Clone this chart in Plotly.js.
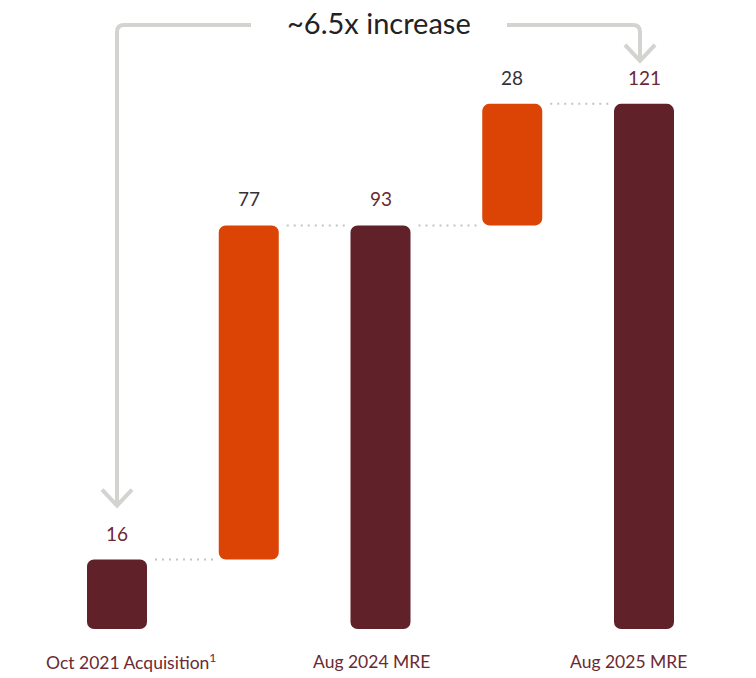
<!DOCTYPE html>
<html>
<head>
<meta charset="utf-8">
<script src="https://cdn.plot.ly/plotly-3.0.1.min.js"></script>
<style>html,body{margin:0;padding:0;background:#fff;}#chart{width:756px;height:678px;}</style>
</head>
<body>
<div id="chart"></div>
<script>
// ---- data ----
const categories = ["Oct 2021 Acquisition<sup>1</sup>", "Increase to Aug 2024", "Aug 2024 MRE", "Increase to Aug 2025", "Aug 2025 MRE"];
const values = [16, 77, 93, 28, 121];
const kinds = ["total", "delta", "total", "delta", "total"];
const valueLabels = ["16", "77", "93", "28", "121"];
const headline = "~6.5x increase";

// ---- styling ----
const MAROON = "#612129";
const ORANGE = "#dc4405";
const W = 756, H = 678;
const M = {l: 15, r: 0, t: 0, b: 49};
const plotW = W - M.l - M.r, plotH = H - M.t - M.b;
const catStep = 131.75;             // px per category
const xr0 = -(117 - M.l) / catStep;
const xr1 = xr0 + plotW / catStep;
const yUnit = 4.34;                 // px per value unit
const yMax = plotH / yUnit;
const pxX = p => p / catStep;       // px length -> x data length
const pxY = p => p / yUnit;         // px length -> y data length
const barW = 60 / catStep;
const labelShift = {0: 14, 2: -9, 4: -16};   // horizontal label offsets (px) as in the source slide

// compute bases
const bases = [];
let running = 0;
values.forEach((v, i) => {
  if (kinds[i] === "total") { bases.push(0); running = v; }
  else { bases.push(running); running += v; }
});
const tops = values.map((v, i) => bases[i] + v);
const xs = categories.map((c, i) => i);

const trace = {
  type: "bar",
  x: xs,
  y: values,
  base: bases,
  width: barW,
  marker: {color: kinds.map(k => k === "total" ? MAROON : ORANGE), line: {width: 0}},
  hoverinfo: "skip"
};

const shapes = [];
// axis baseline
shapes.push({type: "line", xref: "paper", yref: "y", x0: 0, x1: 1, y0: -pxY(2.5), y1: -pxY(2.5),
  line: {color: "#eeeeee", width: 5}, layer: "below"});
// dotted connectors
for (let i = 0; i < values.length - 1; i++) {
  shapes.push({type: "line", xref: "x", yref: "y",
    x0: xs[i] + barW / 2 + pxX(8), x1: xs[i + 1] - barW / 2 - pxX(4),
    y0: tops[i], y1: tops[i],
    line: {color: "#c4c4c4", width: 2, dash: "2px,5px"}});
}

const annotations = [];
values.forEach((v, i) => {
  annotations.push({x: xs[i], y: tops[i], xref: "x", yref: "y", text: valueLabels[i], showarrow: false,
    yanchor: "bottom", yshift: 13,
    font: {family: "Lato, sans-serif", size: 19, color: kinds[i] === "total" ? "#6b2a33" : "#333333"}});
});

// category labels under the totals
xs.forEach((x, i) => {
  if (kinds[i] !== "total") return;
  annotations.push({x: x, y: 0, xref: "x", yref: "paper", text: categories[i], showarrow: false,
    xanchor: "center", yanchor: "middle", yshift: -32, xshift: labelShift[i] || 0,
    font: {family: "Lato, sans-serif", size: 17.5, color: "#6b2a33"}});
});

// bracket arrow from first to last total
const first = 0, last = values.length - 1;
const lineY = yMax - pxY(25);
const xL = xs[first], xRgt = xs[last] - pxX(4);
const tipL = tops[first] + pxY(54), tipR = tops[last] + pxY(43);
const rx = pxX(7), ry = pxY(7);
const gapL = xs[first] + pxX(134), gapR = xs[last] - pxX(137);
const armX = pxX(15), armY = pxY(16);
const ARROW = {color: "#d3d3d0", width: 4};
shapes.push({type: "path", xref: "x", yref: "y",
  path: `M ${xL} ${tipL} L ${xL} ${lineY - ry} Q ${xL} ${lineY} ${xL + rx} ${lineY} L ${gapL} ${lineY}`,
  line: ARROW});
shapes.push({type: "path", xref: "x", yref: "y",
  path: `M ${xL - armX} ${tipL + armY} L ${xL} ${tipL} L ${xL + armX} ${tipL + armY}`,
  line: ARROW});
shapes.push({type: "path", xref: "x", yref: "y",
  path: `M ${gapR} ${lineY} L ${xRgt - rx} ${lineY} Q ${xRgt} ${lineY} ${xRgt} ${lineY - ry} L ${xRgt} ${tipR}`,
  line: ARROW});
shapes.push({type: "path", xref: "x", yref: "y",
  path: `M ${xRgt - armX} ${tipR + armY} L ${xRgt} ${tipR} L ${xRgt + armX} ${tipR + armY}`,
  line: ARROW});
annotations.push({x: (gapL + gapR) / 2, y: lineY, xref: "x", yref: "y", text: headline, showarrow: false,
  yanchor: "middle", yshift: 3,
  font: {family: "Lato, sans-serif", size: 29, color: "#222222"}});

const layout = {
  width: W, height: H,
  margin: M,
  paper_bgcolor: "#ffffff", plot_bgcolor: "#ffffff",
  showlegend: false,
  barcornerradius: 7,
  xaxis: {range: [xr0, xr1], showticklabels: false, showgrid: false, zeroline: false, showline: false, ticks: ""},
  yaxis: {range: [0, yMax], visible: false, showgrid: false, zeroline: false},
  shapes: shapes,
  annotations: annotations
};
Plotly.newPlot("chart", [trace], layout, {staticPlot: true, displayModeBar: false});
</script>
</body>
</html>
